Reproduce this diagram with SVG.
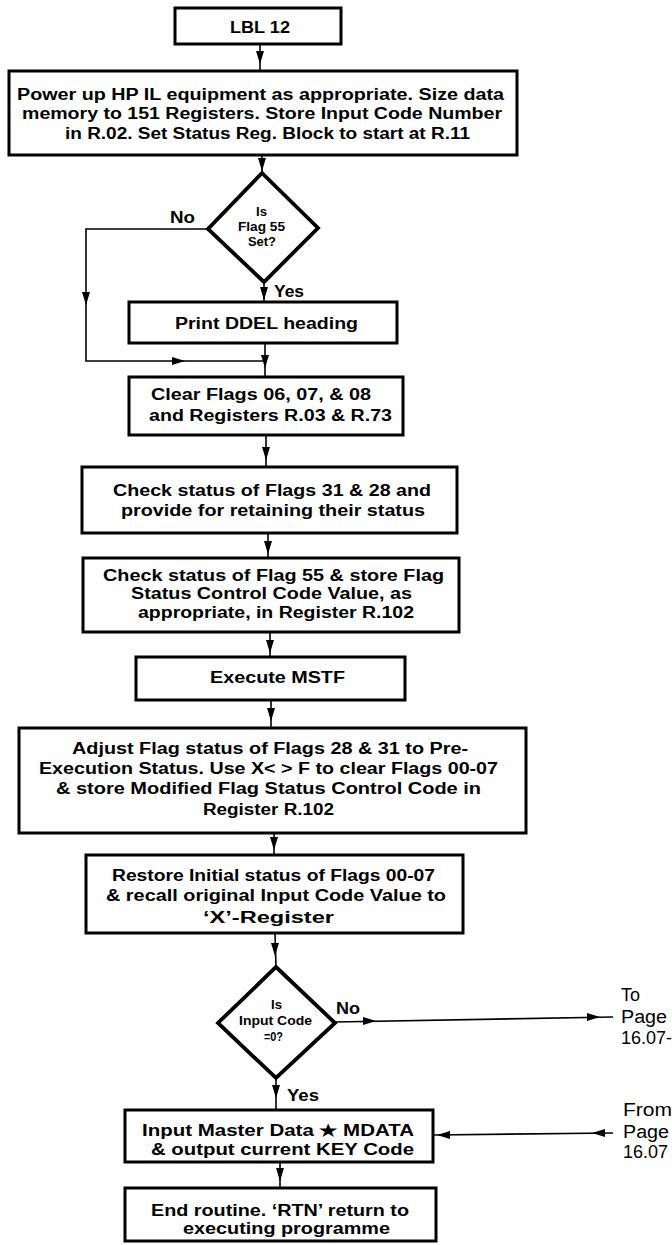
<svg xmlns="http://www.w3.org/2000/svg" width="672" height="1245" viewBox="0 0 672 1245">
<defs>
<style>
.box{fill:#fff;stroke:#000;stroke-width:3}
.dia{fill:#fff;stroke:#000;stroke-width:3.8;stroke-linejoin:miter}
.ln{fill:none;stroke:#000;stroke-width:1.6}
.t{font-family:"Liberation Sans",Arial,sans-serif;font-weight:bold;font-size:16px;fill:#000}
.s{font-family:"Liberation Sans",Arial,sans-serif;font-weight:bold;font-size:13px;fill:#000}
.p{font-family:"Liberation Sans",Arial,sans-serif;font-size:18px;fill:#000}
</style>
<path id="ah" d="M0,0 L-13,-4 L-13,4 Z" fill="#000"/>
</defs>
<rect width="672" height="1245" fill="#fff"/>
<g id="connectors">
<line class="ln" x1="260" y1="44" x2="260" y2="71"/><use href="#ah" transform="translate(260,64) rotate(90)"/>
<line class="ln" x1="262" y1="156" x2="262" y2="173"/><use href="#ah" transform="translate(262,171) rotate(90)"/>
<line class="ln" x1="264" y1="282" x2="264" y2="302"/><use href="#ah" transform="translate(264,300) rotate(90)"/>
<polyline class="ln" points="209,229 86,229 86,361 265,361"/><use href="#ah" transform="translate(86,305) rotate(90)"/><use href="#ah" transform="translate(185,361)"/>
<line class="ln" x1="265" y1="343" x2="265" y2="377"/><use href="#ah" transform="translate(265,368) rotate(90)"/>
<line class="ln" x1="266" y1="435" x2="266" y2="467"/><use href="#ah" transform="translate(266,460) rotate(90)"/>
<line class="ln" x1="268" y1="533" x2="268" y2="558"/><use href="#ah" transform="translate(268,554) rotate(90)"/>
<line class="ln" x1="270" y1="632" x2="270" y2="657"/><use href="#ah" transform="translate(270,653) rotate(90)"/>
<line class="ln" x1="271" y1="700" x2="271" y2="728"/><use href="#ah" transform="translate(271,721) rotate(90)"/>
<line class="ln" x1="274" y1="833" x2="274" y2="855"/><use href="#ah" transform="translate(274,850) rotate(90)"/>
<line class="ln" x1="275" y1="933" x2="276" y2="967"/><use href="#ah" transform="translate(275,956) rotate(90)"/>
<line class="ln" x1="335" y1="1022" x2="613" y2="1017"/><use href="#ah" transform="translate(376,1021)"/><use href="#ah" transform="translate(600,1017)"/>
<line class="ln" x1="276" y1="1078" x2="276" y2="1110"/><use href="#ah" transform="translate(276,1098) rotate(90)"/>
<line class="ln" x1="613" y1="1133" x2="434" y2="1135"/><use href="#ah" transform="translate(592,1133) rotate(180)"/><use href="#ah" transform="translate(437,1135) rotate(180)"/>
<line class="ln" x1="280" y1="1162" x2="280" y2="1188"/><use href="#ah" transform="translate(280,1181) rotate(90)"/>
</g>
<g id="lbl12"><rect class="box" x="175" y="8" width="166" height="36"/><text class="t" x="230" y="33" textLength="60" lengthAdjust="spacingAndGlyphs">LBL 12</text></g>
<g id="powerup"><rect class="box" x="9" y="71" width="508" height="84"/>
<text class="t" x="17" y="100" textLength="487" lengthAdjust="spacingAndGlyphs">Power up HP IL equipment as appropriate. Size data</text>
<text class="t" x="22" y="119" textLength="480" lengthAdjust="spacingAndGlyphs">memory to 151 Registers. Store Input Code Number</text>
<text class="t" x="65" y="139" textLength="405" lengthAdjust="spacingAndGlyphs">in R.02. Set Status Reg. Block to start at R.11</text></g>
<g id="flag55"><polygon class="dia" points="262,173 318,228 264,282 208,229"/>
<text class="s" x="256" y="216" textLength="11" lengthAdjust="spacingAndGlyphs">Is</text>
<text class="s" x="238" y="231" textLength="47" lengthAdjust="spacingAndGlyphs">Flag 55</text>
<text class="s" x="248" y="246" textLength="28" lengthAdjust="spacingAndGlyphs">Set?</text>
<text class="t" x="170" y="223" textLength="25" lengthAdjust="spacingAndGlyphs">No</text>
<text class="t" x="274" y="297" textLength="30" lengthAdjust="spacingAndGlyphs">Yes</text></g>
<g id="printddel"><rect class="box" x="129" y="302" width="268" height="41"/><text class="t" x="175" y="329" textLength="183" lengthAdjust="spacingAndGlyphs">Print DDEL heading</text></g>
<g id="clearflags"><rect class="box" x="129" y="377" width="274" height="58"/>
<text class="t" x="151" y="400" textLength="220" lengthAdjust="spacingAndGlyphs">Clear Flags 06, 07, &amp; 08</text>
<text class="t" x="149" y="421" textLength="243" lengthAdjust="spacingAndGlyphs">and Registers R.03 &amp; R.73</text></g>
<g id="check3128"><rect class="box" x="82" y="467" width="375" height="66"/>
<text class="t" x="113" y="496" textLength="318" lengthAdjust="spacingAndGlyphs">Check status of Flags 31 &amp; 28 and</text>
<text class="t" x="121" y="516" textLength="304" lengthAdjust="spacingAndGlyphs">provide for retaining their status</text></g>
<g id="check55"><rect class="box" x="83" y="558" width="376" height="74"/>
<text class="t" x="103" y="581" textLength="341" lengthAdjust="spacingAndGlyphs">Check status of Flag 55 &amp; store Flag</text>
<text class="t" x="131" y="599" textLength="281" lengthAdjust="spacingAndGlyphs">Status Control Code Value, as</text>
<text class="t" x="138" y="618" textLength="276" lengthAdjust="spacingAndGlyphs">appropriate, in Register R.102</text></g>
<g id="mstf"><rect class="box" x="136" y="657" width="269" height="43"/><text class="t" x="210" y="683" textLength="135" lengthAdjust="spacingAndGlyphs">Execute MSTF</text></g>
<g id="adjust"><rect class="box" x="19" y="728" width="507" height="105"/>
<text class="t" x="72" y="754" textLength="396" lengthAdjust="spacingAndGlyphs">Adjust Flag status of Flags 28 &amp; 31 to Pre-</text>
<text class="t" x="39" y="774" textLength="459" lengthAdjust="spacingAndGlyphs">Execution Status. Use X&lt; &gt; F to clear Flags 00-07</text>
<text class="t" x="56" y="794" textLength="425" lengthAdjust="spacingAndGlyphs">&amp; store Modified Flag Status Control Code in</text>
<text class="t" x="203" y="815" textLength="131" lengthAdjust="spacingAndGlyphs">Register R.102</text></g>
<g id="restore"><rect class="box" x="86" y="855" width="377" height="78"/>
<text class="t" x="112" y="881" textLength="323" lengthAdjust="spacingAndGlyphs">Restore Initial status of Flags 00-07</text>
<text class="t" x="106" y="901" textLength="340" lengthAdjust="spacingAndGlyphs">&amp; recall original Input Code Value to</text>
<text class="t" x="203" y="923" textLength="131" lengthAdjust="spacingAndGlyphs">‘X’-Register</text></g>
<g id="inputcode"><polygon class="dia" points="276,967 335,1023 276,1078 218,1023"/>
<text class="s" x="271" y="1009" textLength="11" lengthAdjust="spacingAndGlyphs">Is</text>
<text class="s" x="239" y="1025" textLength="73" lengthAdjust="spacingAndGlyphs">Input Code</text>
<text class="s" x="264" y="1041" textLength="19" lengthAdjust="spacingAndGlyphs">=0?</text>
<text class="t" x="336" y="1014" textLength="24" lengthAdjust="spacingAndGlyphs">No</text>
<text class="t" x="287" y="1101" textLength="32" lengthAdjust="spacingAndGlyphs">Yes</text></g>
<g id="topage"><text class="p" x="621" y="1001">To</text>
<text class="p" x="621" y="1023" textLength="46" lengthAdjust="spacingAndGlyphs">Page</text>
<text class="p" x="621" y="1044" textLength="51" lengthAdjust="spacingAndGlyphs">16.07-</text></g>
<g id="frompage"><text class="p" x="623" y="1116" textLength="49" lengthAdjust="spacingAndGlyphs">From</text>
<text class="p" x="623" y="1138" textLength="46" lengthAdjust="spacingAndGlyphs">Page</text>
<text class="p" x="623" y="1158" textLength="45" lengthAdjust="spacingAndGlyphs">16.07</text></g>
<g id="mdata"><rect class="box" x="125" y="1110" width="308" height="52"/>
<text class="t" x="142" y="1136" textLength="272" lengthAdjust="spacingAndGlyphs">Input Master Data ★ MDATA</text>
<text class="t" x="151" y="1155" textLength="263" lengthAdjust="spacingAndGlyphs">&amp; output current KEY Code</text></g>
<g id="endroutine"><rect class="box" x="125" y="1188" width="311" height="53"/>
<text class="t" x="151" y="1216" textLength="258" lengthAdjust="spacingAndGlyphs">End routine. ‘RTN’ return to</text>
<text class="t" x="183" y="1234" textLength="207" lengthAdjust="spacingAndGlyphs">executing programme</text></g>
</svg>
